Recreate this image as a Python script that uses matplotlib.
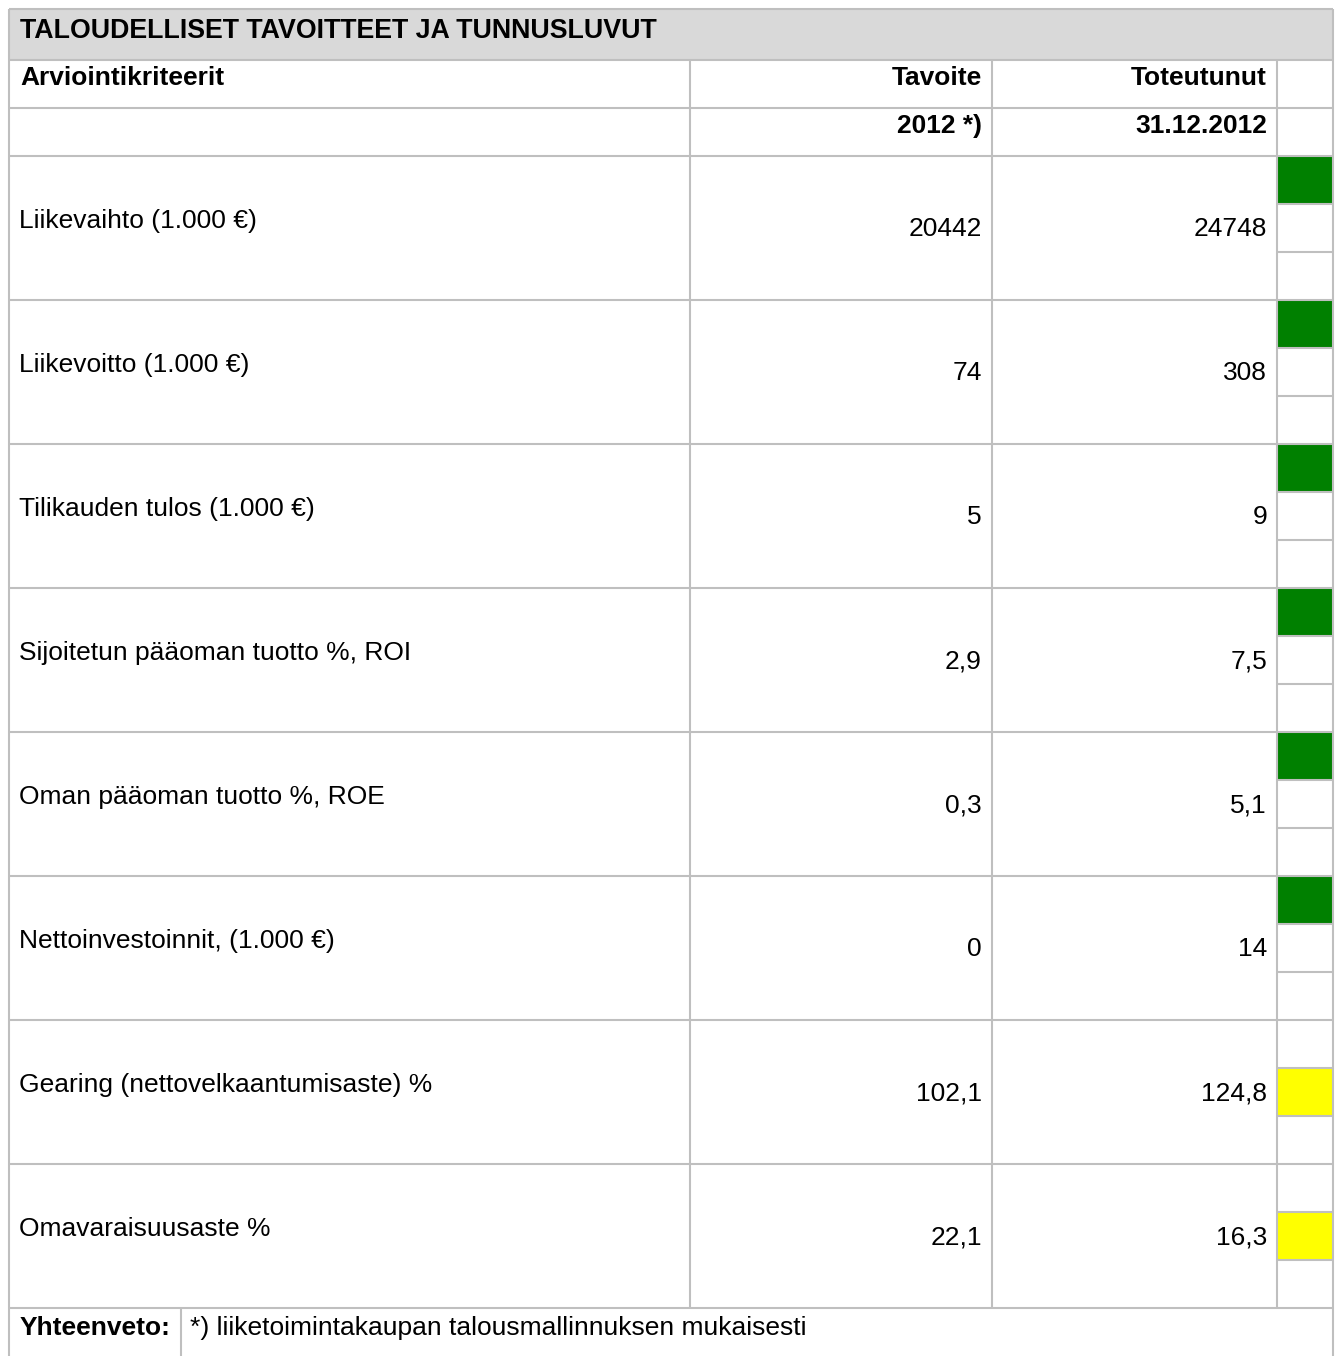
import matplotlib.pyplot as plt
from matplotlib.patches import Rectangle

plt.rcParams['font.family'] = ['Liberation Sans', 'DejaVu Sans']

title = "TALOUDELLISET TAVOITTEET JA TUNNUSLUVUT"
header1 = ["Arviointikriteerit", "Tavoite", "Toteutunut"]
header2 = ["", "2012 *)", "31.12.2012"]
criteria = ["Liikevaihto (1.000 €)", "Liikevoitto (1.000 €)", "Tilikauden tulos (1.000 €)",
            "Sijoitetun pääoman tuotto %, ROI", "Oman pääoman tuotto %, ROE",
            "Nettoinvestoinnit, (1.000 €)", "Gearing (nettovelkaantumisaste) %",
            "Omavaraisuusaste %"]
targets = ["20442", "74", "5", "2,9", "0,3", "0", "102,1", "22,1"]
actuals = ["24748", "308", "9", "7,5", "5,1", "14", "124,8", "16,3"]
# traffic light: (sub-cell index 0=top, 1=middle), colour
status = [(0, "green"), (0, "green"), (0, "green"), (0, "green"), (0, "green"),
          (0, "green"), (1, "yellow"), (1, "yellow")]
summary_label = "Yhteenveto:"
summary_text = "*) liiketoimintakaupan talousmallinnuksen mukaisesti"

colors = {"green": "#008000", "yellow": "#ffff00"}
grid = "#bfbfbf"
fs = 19

W, H = 1338, 1356
fig = plt.figure(figsize=(W / 100, H / 100), dpi=100)
ax = fig.add_axes([0, 0, 1, 1])
ax.set_xlim(0, W)
ax.set_ylim(H, 0)
ax.axis("off")

x0, x1, x2, x3, x4 = 9, 690, 992, 1277, 1333
top, t_bot = 9, 60
hrow = 48
drow = 144
y_data = t_bot + 2 * hrow
y_sum = y_data + drow * len(criteria)

def hl(y, xa, xb):
    ax.plot([xa, xb], [y, y], color=grid, lw=1.5, solid_capstyle="butt")

def vl(x, ya, yb):
    ax.plot([x, x], [ya, yb], color=grid, lw=1.5, solid_capstyle="butt")

# title band
ax.add_patch(Rectangle((x0, top), x4 - x0, t_bot - top, facecolor="#d9d9d9", edgecolor="none"))
ax.text(20, top + 22, title, fontsize=19.3, fontweight="bold", va="center", ha="left")

# header rows
for i, labels in enumerate([header1, header2]):
    yt = t_bot + i * hrow
    ax.text(20, yt + 18, labels[0], fontsize=fs, fontweight="bold", va="center")
    ax.text(x2 - 10, yt + 18, labels[1], fontsize=fs, fontweight="bold", va="center", ha="right")
    ax.text(x3 - 10, yt + 18, labels[2], fontsize=fs, fontweight="bold", va="center", ha="right")

# data rows
for i, (lab, tv, av, (k, c)) in enumerate(zip(criteria, targets, actuals, status)):
    yt = y_data + i * drow
    ax.add_patch(Rectangle((x3, yt + k * hrow), x4 - x3, hrow, facecolor=colors[c], edgecolor="none"))
    ax.text(19, yt + 65, lab, fontsize=fs, va="center", ha="left")
    ax.text(x2 - 10, yt + 73, tv, fontsize=fs, va="center", ha="right")
    ax.text(x3 - 10, yt + 73, av, fontsize=fs, va="center", ha="right")
    hl(yt + hrow, x3, x4)
    hl(yt + 2 * hrow, x3, x4)

# grid lines
hl(top, x0, x4)
hl(t_bot, x0, x4)
hl(t_bot + hrow, x0, x4)
for i in range(len(criteria) + 1):
    hl(y_data + i * drow, x0, x4)
vl(x0, top, H)
vl(x4, top, H)
for x in (x1, x2, x3):
    vl(x, t_bot, y_sum)
vl(181, y_sum, H)

# summary row
ax.text(20, y_sum + 20, summary_label, fontsize=fs, fontweight="bold", va="center")
ax.text(190, y_sum + 20, summary_text, fontsize=fs, va="center")

fig.savefig("out.png", dpi=100)
